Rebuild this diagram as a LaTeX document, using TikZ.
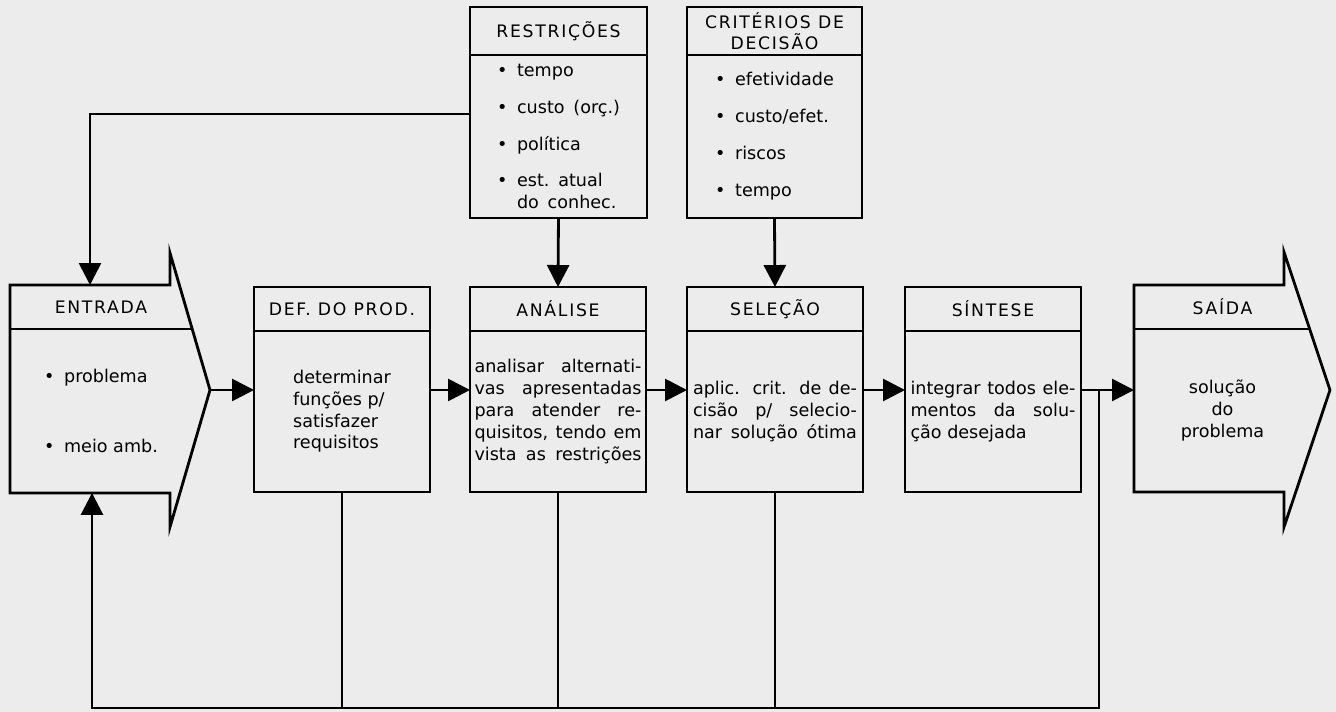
\documentclass[tikz,border=0pt]{standalone}
\usepackage{fontspec}
\setmainfont{DejaVu Sans}
\usetikzlibrary{positioning,arrows.meta}
\definecolor{paper}{RGB}{236,236,236}
\newcommand{\itemdot}{\textbullet\hspace{5.5pt}}
\newcommand{\jline}[2][3.3cm]{\makebox[#1][s]{#2}}

\begin{document}
\begin{tikzpicture}[x=0.02cm,y=-0.02cm,line width=1.6pt,
    every node/.style={font=\fontsize{10pt}{12.4pt}\selectfont,inner sep=0pt,outer sep=0pt},
    hfont/.style={font=\fontsize{9.8pt}{12.2pt}\selectfont\addfontfeatures{LetterSpace=10}},
    head/.style={draw,hfont,minimum width=3.52cm,minimum height=0.88cm,align=center},
    body/.style={draw,minimum width=3.52cm,minimum height=3.22cm,align=left},
    tophead/.style={head,minimum height=0.96cm},
    topbody/.style={body,minimum height=3.26cm},
    flow/.style={-{Triangle[length=12.5pt,width=12.5pt]}}]
      \fill[paper] (0,0) rectangle (1336,712);
      \useasboundingbox (0,0) rectangle (1336,712);
      \node[tophead,anchor=north west,minimum width=3.54cm] (resh) at (470,7) {RESTRIÇÕES};
      \node[topbody,minimum width=3.54cm,below=0pt of resh] (resb) {\itemdot tempo\\[8.6pt]\itemdot custo\enspace(orç.)\\[8.6pt]\itemdot política\\[8.6pt]\itemdot est.\enspace atual\\\hphantom{\itemdot}do\enspace conhec.};
      \node[tophead,anchor=north west,minimum width=3.5cm] (crih) at (687,7) {CRITÉRIOS DE\\DECISÃO};
      \node[topbody,minimum width=3.5cm,below=0pt of crih] (crib) {\itemdot efetividade\\[8.6pt]\itemdot custo/efet.\\[8.6pt]\itemdot riscos\\[8.6pt]\itemdot tempo};
      \draw (10,285) -- (170,285) -- (170,253) -- (210,390) -- (170,527) -- (170,493) -- (10,493) -- cycle;
      \node[hfont,minimum width=3.64cm,minimum height=0.88cm,anchor=north west] (enth) at (10,285) {ENTRADA};
      \node[minimum width=3.64cm,minimum height=3.28cm,align=left,below=0pt of enth] (entb) {\itemdot problema\\[27.2pt]\itemdot meio amb.};
      \draw (enth.south west) -- (enth.south east);
      \node[head,anchor=north west] (defh) at (254,287) {DEF. DO PROD.};
      \node[body,below=0pt of defh] (defb) {determinar\\funções p/\\satisfazer\\requisitos};
      \node[head,anchor=north west] (anah) at (470,287) {ANÁLISE};
      \node[body,below=0pt of anah] (anab) {\jline[3.34cm]{analisar alternati-}\\\jline[3.34cm]{vas apresentadas}\\\jline[3.34cm]{para atender re-}\\\jline[3.34cm]{quisitos, tendo em}\\\jline[3.34cm]{vista as restrições}};
      \node[head,anchor=north west] (selh) at (687,287) {SELEÇÃO};
      \node[body,below=0pt of selh] (selb) {\jline[3.28cm]{aplic. crit. de de-}\\\jline[3.28cm]{cisão p/ selecio-}\\\jline[3.28cm]{nar solução ótima}};
      \node[head,anchor=north west] (sinh) at (905,287) {SÍNTESE};
      \node[body,below=0pt of sinh] (sinb) {\jline{integrar todos ele-}\\\jline{mentos da solu-}\\ção desejada};
      \draw (1134,285) -- (1284,285) -- (1284,252) -- (1330,390) -- (1284,527) -- (1284,492) -- (1134,492) -- cycle;
      \node[hfont,minimum width=3.54cm,minimum height=0.88cm,anchor=north west] (saih) at (1134,285) {SAÍDA};
      \node[minimum width=3.54cm,minimum height=3.26cm,align=center,below=0pt of saih] (saib) {solução\\do\\problema};
      \draw (saih.south west) -- (saih.south east);
      \coordinate (entip) at (210,390);
      \coordinate (fbturn) at (90,114);
      \coordinate (busl) at (92,708);
      \coordinate (jn) at (1099,390);
      \begin{scope}[flow]
        \draw (entip) -- (entip -| defb.west);
        \draw (defb.east |- entip) -- (anab.west |- entip);
        \draw (anab.east |- entip) -- (selb.west |- entip);
        \draw (selb.east |- entip) -- (sinb.west |- entip);
        \draw (sinb.east |- entip) -- (saib.west |- entip);
        \draw (resb.south) -- (anah.north);
        \draw (crib.south) -- (selh.north);
        \draw (resb.west |- fbturn) -- (fbturn) -- (fbturn |- enth.north);
        \draw (jn) |- (busl) -- (busl |- entb.south);
      \end{scope}
      \begin{scope}[-]
        \draw (defb.south) -- (defb.south |- busl);
        \draw (anab.south) -- (anab.south |- busl);
        \draw (selb.south) -- (selb.south |- busl);
      \end{scope}
    \end{tikzpicture}
\end{document}
